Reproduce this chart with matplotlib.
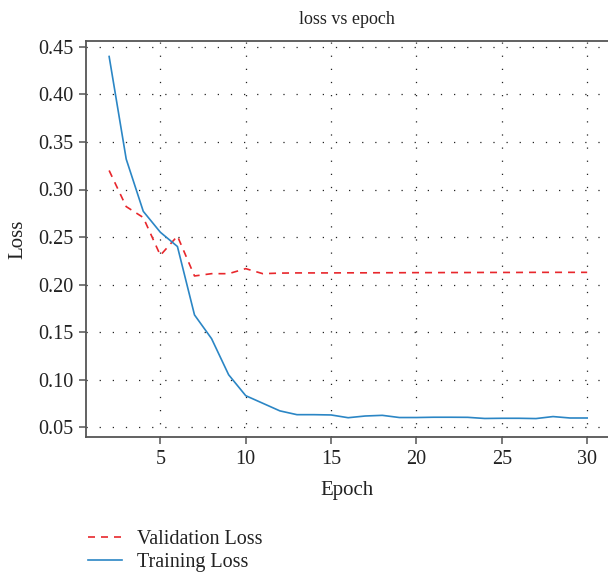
import matplotlib
matplotlib.use("Agg")
import matplotlib.pyplot as plt

epochs = list(range(2, 31))
train_loss = [0.440, 0.332, 0.277, 0.255, 0.240, 0.168, 0.143, 0.105, 0.083,
              0.075, 0.067, 0.063, 0.063, 0.0627, 0.0598, 0.0616, 0.0623, 0.0600,
              0.0600, 0.0603, 0.0603, 0.0602, 0.0590, 0.0592, 0.0592, 0.0589,
              0.0610, 0.0595, 0.0595]
val_loss = [0.320, 0.282, 0.2705, 0.2307, 0.251, 0.209, 0.2114, 0.2114, 0.2167,
            0.2114, 0.2120, 0.2122, 0.2122, 0.2122, 0.2123, 0.2123, 0.2124, 0.2124,
            0.2125, 0.2125, 0.2126, 0.2126, 0.2127, 0.2127, 0.2127, 0.2128, 0.2128,
            0.2128, 0.2128]
x_ticks = [5, 10, 15, 20, 25, 30]
y_ticks = [0.05, 0.10, 0.15, 0.20, 0.25, 0.30, 0.35, 0.40, 0.45]

plt.rcParams['font.family'] = ['Liberation Serif', 'DejaVu Serif']

fig = plt.figure(figsize=(6.08, 5.74), dpi=100)
ax = fig.add_axes([86/608, 1 - 437/574, (608 - 86)/608, (437 - 41)/574])

spine_c = '#555555'
text_c = '#222222'
lv, = ax.plot(epochs, val_loss, color='#e8272c', lw=1.2, dashes=(4.2, 3.6),
              label='Validation Loss')
lt, = ax.plot(epochs, train_loss, color='#2b86c5', lw=1.2, label='Training Loss')

ax.set_xlim(0.645, 31.22)
ax.set_ylim(0.0395, 0.4563)
ax.set_xticks(x_ticks)
ax.set_yticks(y_ticks)
ax.set_yticklabels([f"{v:.2f}" for v in y_ticks])
ax.grid(True, color='#222222', lw=0.9, linestyle=(0, (1, 9.5)))
ax.set_axisbelow(True)

for s in ['left', 'bottom', 'top']:
    ax.spines[s].set_color(spine_c)
    ax.spines[s].set_linewidth(1.3)
ax.spines['right'].set_visible(False)
ax.tick_params(axis='both', direction='out', length=5, width=1.1, color=spine_c,
               labelsize=14.5, labelcolor=text_c, pad=4)

ax.set_title('loss vs epoch', fontsize=13, color=text_c, pad=12)
ax.set_xlabel('Epoch', fontsize=15, color=text_c, labelpad=9)
ax.set_ylabel('Loss', fontsize=15, color=text_c, labelpad=8)

fig.legend(handles=[lv, lt], loc='upper left', bbox_to_anchor=(80/608, 1 - 522/574),
           frameon=False, fontsize=14.5, handlelength=1.7, handletextpad=0.75,
           labelspacing=0.2, borderaxespad=0, labelcolor=text_c)

fig.savefig('out.png', dpi=100)
